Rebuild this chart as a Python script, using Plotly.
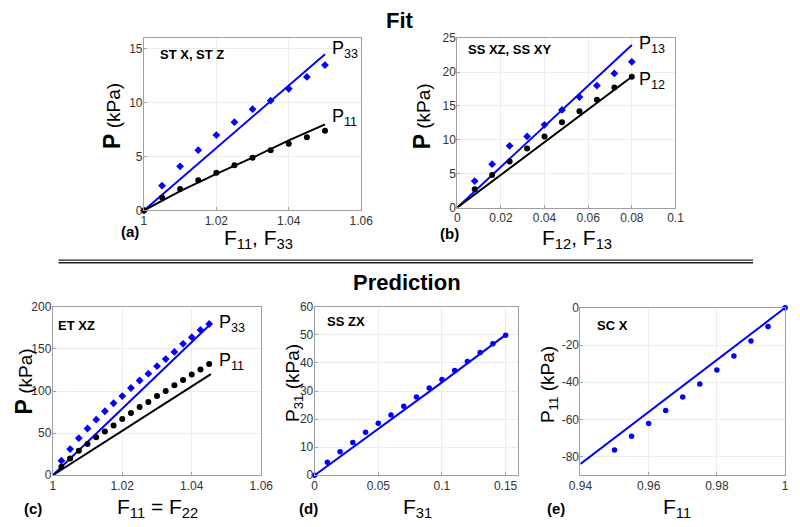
import plotly.graph_objects as go

W, H = 800, 527

# ---------------- data ----------------
# (a) Fit: ST X, ST Z
a_x = [1.0, 1.005, 1.01, 1.015, 1.02, 1.025, 1.03, 1.035, 1.04, 1.045, 1.05]
a_p33 = [0, 2.3, 4.1, 5.6, 7.0, 8.2, 9.4, 10.2, 11.3, 12.4, 13.5]
a_p11 = [0, 1.2, 2.0, 2.8, 3.5, 4.2, 4.9, 5.6, 6.2, 6.8, 7.4]
a_line_x = [1.0, 1.01, 1.02, 1.03, 1.04, 1.05]
a_line_p33 = [0, 2.9, 5.8, 8.7, 11.6, 14.5]
a_line_p11 = [0, 1.8, 3.4, 4.9, 6.5, 8.0]

# (b) Fit: SS XZ, SS XY
b_x = [0.008, 0.016, 0.024, 0.032, 0.04, 0.048, 0.056, 0.064, 0.072, 0.08]
b_p13 = [3.9, 6.4, 9.1, 10.5, 12.2, 14.4, 16.3, 18.0, 19.8, 21.5]
b_p12 = [2.7, 4.8, 6.8, 8.7, 10.5, 12.6, 14.2, 15.9, 17.7, 19.3]
b_line_x = [0, 0.08]
b_line_p13 = [0, 24.0]
b_line_p12 = [0, 19.3]

# (c) Prediction: ET XZ
c_x = [1.0025, 1.005, 1.0075, 1.01, 1.0125, 1.015, 1.0175, 1.02, 1.0225,
       1.025, 1.0275, 1.03, 1.0325, 1.035, 1.0375, 1.04, 1.0425, 1.045]
c_p33 = [17.3, 31, 44, 55.5, 66, 76, 85.5, 94, 103.6, 112.5, 120.6, 129.5,
         138, 146.4, 156, 164, 172.6, 179.6]
c_p11 = [10, 20, 29, 37, 45, 52, 59, 66.7, 74, 81, 87, 94, 100, 107, 113,
         119.5, 125.6, 132]
c_line_x = [1.0, 1.0455]
c_line_p33 = [0, 180]
c_line_p11 = [0, 120]

# (d) Prediction: SS ZX
d_x = [0, 0.01, 0.02, 0.03, 0.04, 0.05, 0.06, 0.07, 0.08, 0.09, 0.10, 0.11,
       0.12, 0.13, 0.14, 0.15]
d_p31 = [0, 4.6, 8.4, 11.7, 15.3, 18.5, 21.5, 24.6, 27.9, 31.1, 34.1, 37.3,
         40.5, 43.7, 46.8, 49.9]
d_line_x = [0, 0.05, 0.10, 0.15]
d_line_p31 = [0, 16.4, 33.1, 50.0]

# (e) Prediction: SC X
e_x = [0.95, 0.955, 0.96, 0.965, 0.97, 0.975, 0.98, 0.985, 0.99, 0.995, 1.0]
e_p11 = [-76.4, -69.1, -62.2, -55.2, -47.9, -41.0, -33.4, -25.9, -17.8, -10, 0]
e_line_x = [0.94, 1.0]
e_line_p11 = [-84, 0]

# ticks
a_xticks = [1, 1.02, 1.04, 1.06]; a_xtext = ["1", "1.02", "1.04", "1.06"]
a_yticks = [0, 5, 10, 15]
b_xticks = [0, 0.02, 0.04, 0.06, 0.08, 0.1]; b_xtext = ["0", "0.02", "0.04", "0.06", "0.08", "0.1"]
b_yticks = [0, 5, 10, 15, 20, 25]
c_xticks = [1, 1.02, 1.04, 1.06]; c_xtext = ["1", "1.02", "1.04", "1.06"]
c_yticks = [0, 50, 100, 150, 200]
d_xticks = [0, 0.05, 0.1, 0.15]; d_xtext = ["0", "0.05", "0.1", "0.15"]
d_yticks = [0, 10, 20, 30, 40, 50, 60]
e_xticks = [0.94, 0.96, 0.98, 1.0]; e_xtext = ["0.94", "0.96", "0.98", "1"]
e_yticks = [-80, -60, -40, -20, 0]

BLUE = "#0000ff"
BLACK = "#000000"
FONT = "Liberation Sans, Arial, sans-serif"

def px(xp):
    return xp / W

def py(yp):
    return 1 - yp / H

fig = go.Figure()

# panel boxes (pixel coords: left, right, top, bottom)
boxes = {
    "a": (136, 360, 32, 209),
    "b": (459, 684, 32, 206),
    "c": (42, 257, 308, 481),
    "d": (312, 522, 308, 481),
    "e": (586, 797, 309, 481),
}
ranges = {
    "a": ([1, 1.06], [0, 16], a_xticks, a_xtext, a_yticks),
    "b": ([0, 0.1], [0, 25], b_xticks, b_xtext, b_yticks),
    "c": ([1, 1.06], [0, 200], c_xticks, c_xtext, c_yticks),
    "d": ([0, 0.16], [0, 60], d_xticks, d_xtext, d_yticks),
    "e": ([0.94, 1.0], [-90, 0], e_xticks, e_xtext, e_yticks),
}

layout_axes = {}
for i, k in enumerate(["a", "b", "c", "d", "e"]):
    n = "" if i == 0 else str(i + 1)
    l, r, t, b = boxes[k]
    xr, yr, xt, xtt, yt = ranges[k]
    common = dict(showline=True, mirror=True, linecolor="#a0a0a0", linewidth=1,
                  showgrid=True, gridcolor="#ececec", gridwidth=1, zeroline=False,
                  ticks="inside", ticklen=3, tickcolor="#a0a0a0",
                  tickfont=dict(family=FONT, size=12, color="#333333"))
    layout_axes["xaxis" + n] = dict(domain=[px(l), px(r)], range=xr, tickvals=xt,
                                    ticktext=xtt, anchor="y" + n,
                                    ticklabelstandoff=-1, **common)
    layout_axes["yaxis" + n] = dict(domain=[py(b), py(t)], range=yr, tickvals=yt,
                                    ticktext=[str(v) for v in yt], anchor="x" + n,
                                    ticklabelstandoff=-2, **common)

def add_line(x, y, color, ax):
    fig.add_trace(go.Scatter(x=x, y=y, mode="lines", line=dict(color=color, width=2),
                             xaxis="x" + ax, yaxis="y" + ax, showlegend=False,
                             hoverinfo="skip"))

def add_pts(x, y, color, ax, symbol="circle", size=6):
    fig.add_trace(go.Scatter(x=x, y=y, mode="markers",
                             marker=dict(color=color, size=size, symbol=symbol,
                                         line=dict(width=0)),
                             xaxis="x" + ax, yaxis="y" + ax, showlegend=False,
                             cliponaxis=False))

# (a)
add_line(a_line_x, a_line_p33, BLUE, "")
add_line(a_line_x, a_line_p11, BLACK, "")
add_pts(a_x, a_p33, BLUE, "", "diamond", 6)
add_pts(a_x, a_p11, BLACK, "")
# (b)
add_line(b_line_x, b_line_p13, BLUE, "2")
add_line(b_line_x, b_line_p12, BLACK, "2")
add_pts(b_x, b_p13, BLUE, "2", "diamond", 6)
add_pts(b_x, b_p12, BLACK, "2")
# (c)
add_line(c_line_x, c_line_p33, BLUE, "3")
add_line(c_line_x, c_line_p11, BLACK, "3")
add_pts(c_x, c_p33, BLUE, "3", "diamond", 6)
add_pts(c_x, c_p11, BLACK, "3")
# (d)
add_line(d_line_x, d_line_p31, BLUE, "4")
add_pts(d_x, d_p31, BLUE, "4", "circle", 5.5)
# (e)
add_line(e_line_x, e_line_p11, BLUE, "5")
add_pts(e_x, e_p11, BLUE, "5", "circle", 5.5)

ann = []

def text_px(x, y, text, size, angle=0, xanchor="center", color="#000"):
    ann.append(dict(x=px(x), y=py(y), xref="paper", yref="paper", text=text,
                    showarrow=False, textangle=angle, xanchor=xanchor, yanchor="middle",
                    font=dict(family=FONT, size=size, color=color)))

def text_data(x, y, text, ax, size=18):
    ann.append(dict(x=x, y=y, xref="x" + ax, yref="y" + ax, text=text, showarrow=False,
                    xanchor="left", yanchor="middle", yshift=4,
                    font=dict(family=FONT, size=size, color="#000")))

# titles
ann.append(dict(x=px(400), y=1, xref="paper", yref="paper", text="<b>Fit</b>",
                showarrow=False, xanchor="center", yanchor="top", yshift=1,
                font=dict(family=FONT, size=22, color="#000")))
text_px(407, 283, "<b>Prediction</b>", 22)

# inset labels
text_px(150, 49, "<b>ST X, ST Z</b>", 13, xanchor="left")
text_px(468, 44, "<b>SS XZ, SS XY</b>", 13, xanchor="left")
text_px(45, 327, "<b>ET XZ</b>", 13, xanchor="left")
text_px(323, 323, "<b>SS ZX</b>", 13, xanchor="left")
text_px(601, 327, "<b>SC X</b>", 13, xanchor="left")

# curve labels
text_data(1.0515, 14.6, "P<sub>33</sub>", "")
text_data(1.0515, 8.3, "P<sub>11</sub>", "")
text_data(0.0825, 23.4, "P<sub>13</sub>", "2")
text_data(0.0825, 18.1, "P<sub>12</sub>", "2")
text_data(1.0472, 176, "P<sub>33</sub>", "3")
text_data(1.0472, 130, "P<sub>11</sub>", "3")

# y axis titles
YT = "<span style='font-size:23px'><b>P</b></span> (kPa)"
text_px(103, 112, YT, 19, angle=-90)
text_px(423, 112, YT, 19, angle=-90)
text_px(12, 385, YT, 19, angle=-90)
text_px(290, 386, "P<sub>31</sub> (kPa)", 19, angle=-90)
text_px(553, 388, "P<sub>11</sub> (kPa)", 19, angle=-90)

# x axis titles
text_px(254, 238, "F<sub>11</sub>, F<sub>33</sub>", 21)
text_px(582, 238, "F<sub>12</sub>, F<sub>13</sub>", 21)
text_px(150, 515, "F<sub>11</sub> = F<sub>22</sub>", 21)
text_px(418, 515, "F<sub>31</sub>", 21)
text_px(686, 515, "F<sub>11</sub>", 21)

# panel labels
text_px(122, 231, "<b>(a)</b>", 15)
text_px(451, 233, "<b>(b)</b>", 15)
text_px(22, 515, "<b>(c)</b>", 15)
text_px(306, 515, "<b>(d)</b>", 15)
text_px(561, 515, "<b>(e)</b>", 15)

shapes = [
    dict(type="line", xref="paper", yref="paper", x0=px(48), x1=px(764),
         y0=py(260), y1=py(260), line=dict(color="#222222", width=1.4)),
    dict(type="line", xref="paper", yref="paper", x0=px(48), x1=px(764),
         y0=py(262.8), y1=py(262.8), line=dict(color="#222222", width=1.4)),
]

fig.update_layout(width=W, height=H, margin=dict(l=0, r=0, t=0, b=0),
                  paper_bgcolor="white", plot_bgcolor="white",
                  annotations=ann, shapes=shapes, showlegend=False,
                  font=dict(family=FONT), **layout_axes)

fig.write_html("out.html", config={"displayModeBar": False},
               post_script="document.body.style.margin='0';document.body.style.padding='0';document.body.style.overflow='hidden';")
